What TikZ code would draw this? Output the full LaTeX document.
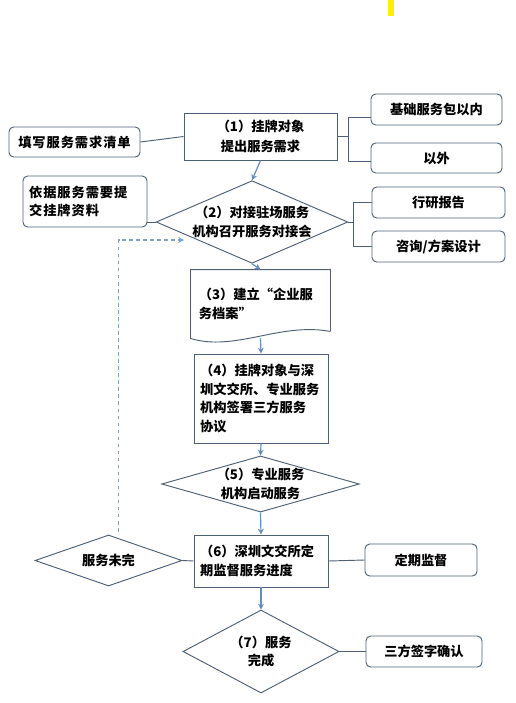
\documentclass[tikz,border=0pt]{standalone}
\usepackage{fontspec}
\usepackage{xcolor}
\usepackage{tikz}
\usetikzlibrary{shapes.geometric, arrows.meta, positioning, calc}
\newfontfamily\cjk{Noto Sans CJK SC}
\newfontfamily\cjkwide[LetterSpace=7]{Noto Sans CJK SC}
\definecolor{boxline}{RGB}{78,96,118}
\definecolor{flowblue}{RGB}{98,142,190}
\definecolor{fbblue}{RGB}{125,162,204}
\definecolor{markyellow}{RGB}{255,240,0}

\begin{document}
\begin{tikzpicture}[
    x=0.03cm, y=-0.03cm,
    stepbox/.style={draw=boxline, line width=0.8pt, font=\cjk\bfseries\fontsize{11.3}{15.8}\selectfont, inner sep=0pt},
    sidebox/.style={stepbox, rounded corners=4pt, align=center},
    widebox/.style={sidebox, font=\cjkwide\bfseries\fontsize{11.3}{15.8}\selectfont},
    decide/.style={stepbox, diamond, align=center},
    link/.style={draw=boxline, line width=0.8pt},
    flow/.style={draw=flowblue, line width=1pt, -{Stealth[length=5pt,width=5pt]}},
    fb/.style={draw=fbblue, line width=1pt, dashed, -{Stealth[length=5pt,width=5pt]}}
]
    \useasboundingbox (0,0) rectangle (516,703);
    \fill[markyellow] (388,0) rectangle (394,16);

    % step 1
    \node[stepbox, minimum width=4.59cm, minimum height=1.41cm, align=center, font=\cjk\bfseries\fontsize{11.3}{17.5}\selectfont] (s1) at (260.5,136.5) {（1）挂牌对象\\提出服务需求};
    \node[widebox, minimum width=3.93cm, minimum height=0.9cm] (tianxie) at (74.5,142) {填写服务需求清单};
    \node[sidebox, minimum width=3.93cm, minimum height=0.93cm] (jichu) at (436.5,109.5) {基础服务包以内};
    \node[sidebox, minimum width=3.93cm, minimum height=0.9cm] (yiwai) at (436.5,158) {以外};

    % step 2
    \node[decide, aspect=2.32, minimum width=5.7cm, minimum height=2.46cm] (d2) at (252,222) {（2）对接驻场服务\\机构召开服务对接会};
    \node[widebox, minimum width=3.72cm, minimum height=1.53cm, text width=3.35cm, align=left] (yiju) at (85,201.5) {依据服务需要提\\交挂牌资料};
    \node[sidebox, minimum width=3.99cm, minimum height=0.93cm] (hangyan) at (438.5,202.5) {行研报告};
    \node[sidebox, minimum width=3.99cm, minimum height=0.93cm] (zixun) at (438.5,246.5) {咨询/方案设计};

    % step 3 (document)
    \node[stepbox, draw=none, minimum width=4.17cm, minimum height=2.04cm, text width=3.7cm, align=left] (s3) at (260.5,304) {（3）建立“企业服\\务档案”\\[4pt]};
    \draw[link] ($(s3.south east)+(0,-7)$) -- (s3.north east) -- (s3.north west) -- (s3.south west)
        .. controls (235,352) and (280,322) .. ($(s3.south east)+(0,-7)$);

    % step 4
    \node[stepbox, minimum width=4.02cm, minimum height=2.67cm, text width=3.65cm, align=left] (s4) at (261,398.5) {（4）挂牌对象与深\\圳文交所、专业服务\\机构签署三方服务\\协议};

    % step 5
    \node[decide, aspect=3.52, minimum width=5.91cm, minimum height=1.68cm] (d5) at (260.5,484) {（5）专业服务\\机构启动服务};

    % step 6
    \node[stepbox, minimum width=4.02cm, minimum height=1.56cm, text width=3.65cm, align=left] (s6) at (261,561) {（6）深圳文交所定\\期监督服务进度};
    \node[decide, aspect=2.88, minimum width=4.41cm, minimum height=1.53cm] (weiwan) at (108.5,560.5) {服务未完};
    \node[sidebox, minimum width=3.36cm, minimum height=0.96cm] (dingqi) at (421,560) {定期监督};

    % step 7
    \node[decide, aspect=1.88, minimum width=4.68cm, minimum height=2.49cm] (d7) at (261,651.5) {（7）服务\\完成};
    \node[sidebox, minimum width=3.48cm, minimum height=0.93cm] (sanfang) at (424,651.5) {三方签字确认};

    % main flow
    \draw[flow] (s1.south) -- (d2.north);
    \draw[flow] (d2.south) -- (s3.north);
    \draw[flow] (s3.south) -- (s4.north);
    \draw[flow] (s4.south) -- (d5.north);
    \draw[flow] (d5.south) -- (s6.north);
    \draw[flow] (s6.south) -- (d7.north);

    % side links
    \draw[link] (tianxie.east) -- (s1.west);
    \draw[link] (s1.east) -- ++(11,0) coordinate (b1);
    \draw[link] ([yshift=-0.23cm]jichu.west) -| (b1) |- ([yshift=-0.11cm]yiwai.west);
    \draw[link] (d2.west) -- (d2.west -| yiju.east);
    \draw[link] (d2.east) -- ++(5,0) coordinate (b2);
    \draw[link] (hangyan.west) -| (b2) |- (zixun.west);
    \draw[link] (weiwan.east) -- (s6.west);
    \draw[link] (s6.east) -- (dingqi.west);
    \draw[link] (d7.east) -- (sanfang.west);

    % back to step 2
    \coordinate (fbend) at (184,240);
    \draw[fb] ([xshift=0.3cm,yshift=0.09cm]weiwan.north) |- (fbend);
\end{tikzpicture}
\end{document}
